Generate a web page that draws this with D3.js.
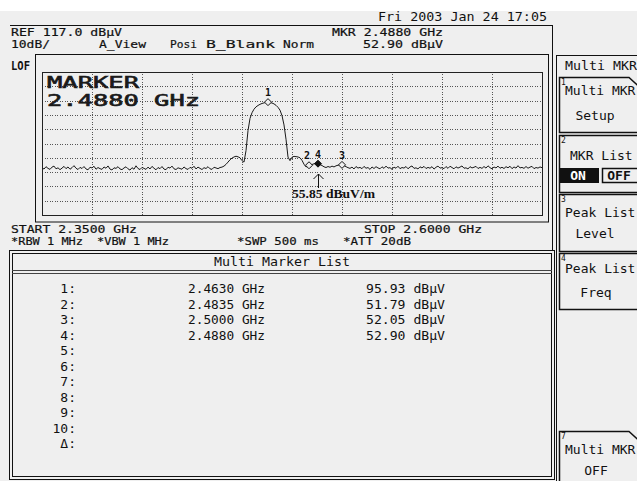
<!DOCTYPE html>
<html><head><meta charset="utf-8">
<script src="https://cdn.jsdelivr.net/npm/d3@7"></script>
<style>body{margin:0;background:#efefef;overflow:hidden}svg{display:block}</style>
</head><body><svg id="c" width="637" height="481"></svg>
<script>
// ---------- data ----------
const spanStartMHz = 2350, spanStopMHz = 2600;
const refLevel = 117, dbPerDiv = 10, divisions = 10;
const traceStartMHz = 2350, traceStepMHz = 1;
const traceLevels = [
 50.2,49.1,50.8,49.6,48.9,50.5,51.2,49.3,50.0,48.7,
 49.8,51.0,49.4,50.6,49.0,50.1,51.5,49.7,48.8,50.3,
 49.5,50.9,49.2,48.6,50.4,49.9,51.1,49.0,50.2,49.4,
 48.9,50.6,49.7,51.3,49.1,48.5,50.0,49.6,50.8,49.2,
 48.7,49.9,50.7,49.3,48.4,50.1,49.0,51.4,49.5,48.8,
 50.3,49.6,48.9,50.5,49.2,51.0,49.7,48.6,50.2,49.4,
 50.9,49.1,48.7,50.4,49.8,51.2,49.3,48.8,50.0,49.5,
 49.0,50.6,49.4,48.9,50.3,49.7,51.1,49.2,50.5,49.6,
 48.8,50.1,49.5,50.8,49.3,48.9,50.4,49.9,49.4,50.2,
 50.5,51.2,52.4,54.0,55.6,56.8,57.6,58.1,57.7,57.0,55.0,
 54.0,62.0,76.0,84.5,88.5,91.0,92.6,93.6,94.4,95.0,95.4,95.7,95.93,95.7,95.3,94.7,93.7,92.3,90.3,86.5,80.0,70.0,57.5,
 55.0,57.4,58.0,57.8,57.6,57.0,55.2,52.5,50.6,51.3,51.9,52.3,52.8,53.1,52.9,52.2,51.6,50.7,50.2,50.9,50.4,51.2,50.6,51.4,51.8,52.2,52.05,51.5,50.8,50.1,
 49.6,50.5,49.2,50.9,49.8,50.3,
 49.4,51.0,49.7,50.2,48.9,50.6,49.5,50.8,49.9,49.3,
 50.7,49.6,51.2,49.8,50.1,49.0,50.5,49.7,51.1,49.4,
 50.2,49.8,50.9,49.3,50.6,51.3,49.6,50.0,49.2,50.7,
 49.9,51.0,49.5,50.3,49.7,50.8,49.1,50.4,51.2,49.8,
 50.1,49.4,50.9,49.6,51.1,50.2,49.3,50.7,49.8,50.5,
 51.3,49.7,50.0,49.2,50.8,49.9,50.4,51.0,49.5,50.3,
 49.6,50.9,49.8,51.4,50.1,49.3,50.6,49.9,51.2,49.7,
 50.4,49.5,50.8,50.0,51.1,49.4,50.6,49.8,51.5,49.9,
 50.3,49.6,50.9,49.7,50.5,51.0,49.4,50.2,49.8,50.6,50.1
];
const markerIds = ["1","2","3","4"];
const markerFreqsGHz = [2.4630, 2.4835, 2.5000, 2.4880];
const markerLevels = [95.93, 51.79, 52.05, 52.90];
const activeMarker = "4";
const listRowLabels = ["1:","2:","3:","4:","5:","6:","7:","8:","9:","10:","Δ:"];
const headerDate = "Fri 2003 Jan 24 17:05";
const fieldStrengthLabel = "55.85 dBuV/m";

// ---------- drawing ----------
const W = 637, H = 481;
const MONO = "'DejaVu Sans Mono','Liberation Mono',monospace";
const svg = d3.select("#c");
svg.append("rect").attr("width", W).attr("height", H).attr("fill", "#efefef");
svg.append("rect").attr("width", W).attr("height", 11).attr("fill", "#ffffff");

function txt(x, y, s, o = {}) {
  const t = svg.append("text").attr("x", x).attr("y", y).text(s)
    .attr("font-family", o.font || MONO).attr("font-size", o.size || 13)
    .attr("fill", o.fill || "#111");
  if (o.anchor) t.attr("text-anchor", o.anchor);
  if (o.weight) t.attr("font-weight", o.weight);
  if (o.len) t.attr("textLength", o.len).attr("lengthAdjust", "spacingAndGlyphs");
  if (o.stroke) t.attr("stroke", o.fill || "#111").attr("stroke-width", o.stroke);
  return t;
}
function hline(x1, x2, y, c = "#111", w = 1) {
  svg.append("line").attr("x1", x1).attr("x2", x2).attr("y1", y).attr("y2", y).attr("stroke", c).attr("stroke-width", w);
}
function vline(x, y1, y2, c = "#111", w = 1) {
  svg.append("line").attr("x1", x).attr("x2", x).attr("y1", y1).attr("y2", y2).attr("stroke", c).attr("stroke-width", w);
}

// header
const HS = 11;
txt(378, 21, headerDate, {len: 169});
txt(11, 35.5, `REF ${refLevel.toFixed(1)} dBµV`, {len: 111, size: HS, stroke: 0.2});
txt(332, 35.5, `MKR ${markerFreqsGHz[3].toFixed(4)} GHz`, {len: 111, size: HS, stroke: 0.2});
txt(11, 48, `${dbPerDiv}dB/`, {len: 39, size: HS, stroke: 0.2});
txt(99, 48, "A_View", {len: 47, size: HS, stroke: 0.2});
txt(170, 48, "Posi", {len: 27, size: HS, stroke: 0.2});
txt(206, 48, "B_Blank", {len: 69, size: HS, stroke: 0.2});
txt(283, 48, "Norm", {len: 31, size: HS, stroke: 0.2});
txt(363, 48, `${markerLevels[3].toFixed(2)} dBµV`, {len: 80, size: HS, stroke: 0.2});
txt(11, 70, "LOF", {size: 12, weight: "bold", len: 19});

// frames
hline(10, 553, 25.5);
vline(552.5, 25, 250);
svg.append("rect").attr("x", 35.5).attr("y", 54.5).attr("width", 513).attr("height", 167.5)
  .attr("fill", "none").attr("stroke", "#111");

// plot
const px0 = 42, px1 = 542, py0 = 72, py1 = 215;
const x = d3.scaleLinear().domain([spanStartMHz, spanStopMHz]).range([px0, px1]);
const y = d3.scaleLinear().domain([refLevel - dbPerDiv * divisions, refLevel]).range([py1, py0]);
const plot = svg.append("g");
const xTicks = d3.range(0, divisions + 1).map(i => spanStartMHz + i * (spanStopMHz - spanStartMHz) / divisions);
const yTicks = d3.range(0, divisions + 1).map(i => refLevel - i * dbPerDiv);
const xAxis = d3.axisBottom(x).tickValues(xTicks.slice(1, -1)).tickSize(-(py1 - py0)).tickFormat("");
const yAxis = d3.axisLeft(y).tickValues(yTicks.slice(1, -1)).tickSize(-(px1 - px0)).tickFormat("");
const gx = plot.append("g").attr("transform", `translate(0,${py1})`).call(xAxis);
const gy = plot.append("g").attr("transform", `translate(${px0},0)`).call(yAxis);
[gx, gy].forEach(g => {
  g.select(".domain").remove();
  g.selectAll(".tick line").attr("stroke", "#555").attr("stroke-dasharray", "1,1.5").attr("shape-rendering", "crispEdges");
});
plot.append("rect").attr("x", px0 + 0.5).attr("y", py0 + 0.5).attr("width", px1 - px0).attr("height", py1 - py0)
  .attr("fill", "none").attr("stroke", "#222");

// big marker text
txt(47, 88, "MARKER", {size: 16, len: 92, stroke: 0.6, fill: "#1a1a1a"});
txt(47, 106, `${markerFreqsGHz[3].toFixed(4)} GHz`, {size: 16, len: 153, stroke: 0.6, fill: "#1a1a1a"});

// trace
const traceData = traceLevels.map((v, i) => [traceStartMHz + i * traceStepMHz, v]);
plot.append("path").datum(traceData)
  .attr("d", d3.line().x(d => x(d[0])).y(d => y(d[1])))
  .attr("fill", "none").attr("stroke", "#1a1a1a").attr("stroke-width", 1);

// markers
const mk = plot.selectAll("g.mk").data(markerIds.map((id, i) => ({id, f: markerFreqsGHz[i] * 1000, v: markerLevels[i]})))
  .join("g").attr("class", "mk").attr("transform", d => `translate(${x(d.f)},${y(d.v)})`);
mk.append("path").attr("d", "M0,-3.5L3.5,0L0,3.5L-3.5,0Z")
  .attr("fill", d => d.id === activeMarker ? "#111" : "#efefef").attr("stroke", "#111");
mk.append("text").attr("x", d => d.id === "2" ? -2 : 0).attr("y", -6).attr("text-anchor", "middle")
  .attr("font-family", MONO).attr("font-size", 10).attr("font-weight", "bold").attr("fill", "#111").text(d => d.id);

// arrow + field strength
const am = markerFreqsGHz[markerIds.indexOf(activeMarker)] * 1000;
const ax = Math.round(x(am)) + 0.5;
vline(ax, 174, 188);
svg.append("path").attr("d", `M${ax - 5},${179}L${ax},${174}L${ax + 5},${179}`).attr("fill", "none").attr("stroke", "#111");
txt(292, 198, fieldStrengthLabel, {font: "'Liberation Serif','DejaVu Serif',serif", size: 13, len: 83, weight: "bold"});

// span / settings
txt(11, 232.5, `START ${(spanStartMHz / 1000).toFixed(4)} GHz`, {len: 126, size: HS, stroke: 0.2});
txt(364, 232.5, `STOP ${(spanStopMHz / 1000).toFixed(4)} GHz`, {len: 118, size: HS, stroke: 0.2});
txt(11, 245, "*RBW 1 MHz", {len: 72, size: HS, stroke: 0.2});
txt(97, 245, "*VBW 1 MHz", {len: 72, size: HS, stroke: 0.2});
txt(237, 245, "*SWP 500 ms", {len: 82, size: HS, stroke: 0.2});
txt(343, 245, "*ATT 20dB", {len: 68, size: HS, stroke: 0.2});

// marker list box
svg.append("rect").attr("x", 9.5).attr("y", 250.5).attr("width", 545).attr("height", 229).attr("fill", "none").attr("stroke", "#111");
svg.append("rect").attr("x", 12.5).attr("y", 253.5).attr("width", 539).attr("height", 223).attr("fill", "none").attr("stroke", "#111");
txt(282, 266, "Multi Marker List", {anchor: "middle", len: 136});
hline(12, 552, 270.5, "#444");
hline(12, 552, 273.5, "#444");
const rowY0 = 293, rowPitch = 15.5;
listRowLabels.forEach((lab, i) => {
  txt(76, rowY0 + i * rowPitch, lab, {anchor: "end"});
  if (i < markerFreqsGHz.length) {
    txt(188, rowY0 + i * rowPitch, `${markerFreqsGHz[i].toFixed(4)} GHz`, {len: 77});
    txt(366, rowY0 + i * rowPitch, `${markerLevels[i].toFixed(2)} dBµV`, {len: 79});
  }
});

// softkey panel
vline(556.5, 55, 481);
hline(556, 637, 55.5);
txt(565, 70, "Multi MKR", {len: 72});
const keys = [
  {n: "1", top: 77, h: 55, notch: true, lines: [["Multi MKR", 565, 95, "start"], ["Setup", 595, 120, "middle"]]},
  {n: "2", top: 135, h: 57, lines: [["MKR List", 570, 160, "start"]], onoff: true},
  {n: "3", top: 194, h: 57, lines: [["Peak List", 565, 217, "start"], ["Level", 595, 238, "middle"]]},
  {n: "4", top: 253, h: 56, lines: [["Peak List", 565, 273, "start"], ["Freq", 596, 297, "middle"]]},
  {n: "7", top: 431, h: 60, notch: true, lines: [["Multi MKR", 565, 454, "start"], ["OFF", 596, 475, "middle"]]}
];
keys.forEach(k => {
  const t = k.top + 0.5, b = k.top + k.h + 0.5, l = 559.5;
  const d = k.notch ? `M645,${b}H${l}V${t}H629L639,${t + 9}` : `M645,${b}H${l}V${t}H645`;
  svg.append("path").attr("d", d).attr("fill", "none").attr("stroke", "#111").attr("stroke-width", 1.5);
  txt(561, k.top + 8, k.n, {size: 8});
  k.lines.forEach(([s, lx, ly, an]) => txt(lx, ly, s, {anchor: an === "middle" ? "middle" : null}));
  if (k.onoff) {
    svg.append("rect").attr("x", 559).attr("y", 168).attr("width", 40).attr("height", 15).attr("fill", "#111");
    txt(578, 180, "ON", {anchor: "middle", fill: "#ffffff", weight: "bold"});
    svg.append("rect").attr("x", 602.5).attr("y", 168.5).attr("width", 40).attr("height", 14).attr("fill", "none").attr("stroke", "#111").attr("stroke-width", 1.5);
    txt(619, 180, "OFF", {anchor: "middle", weight: "bold"});
  }
});
</script>
</body></html>
